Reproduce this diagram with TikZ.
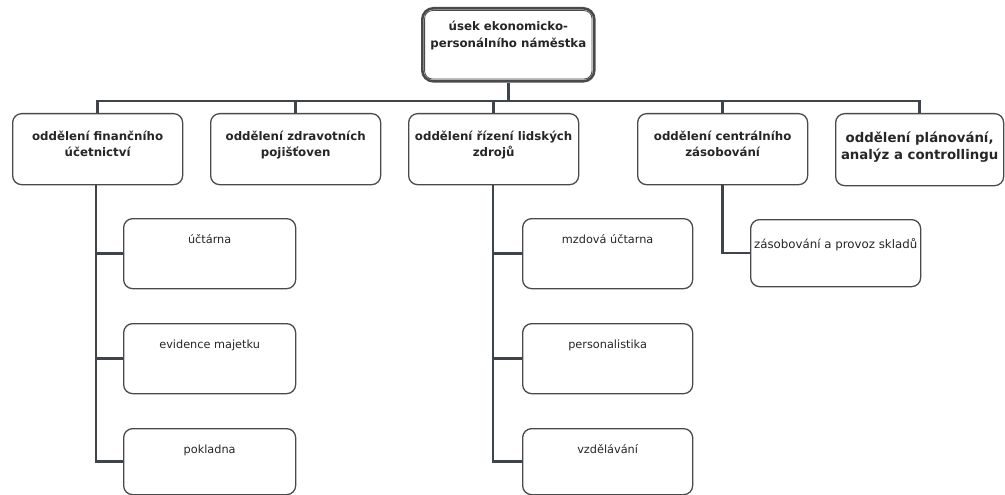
\documentclass[tikz,border=0pt]{standalone}
\usepackage{fontspec}
\setmainfont{DejaVu Sans}
\definecolor{linec}{HTML}{3E4449}
\definecolor{boxc}{HTML}{4A4A4A}
\definecolor{txtc}{HTML}{262626}
\tikzset{
  box/.style={draw=boxc, line width=1.3pt, rounded corners=9pt, inner sep=0pt, anchor=north west, text=txtc, fill=white},
  conn/.style={draw=linec, line width=2.6pt, line join=miter},
}
\newcommand{\lvltext}[4]{\parbox[t][#1pt][t]{#2pt}{\centering\rule{0pt}{#3pt}#4}}
\begin{document}
\begin{tikzpicture}[x=1pt,y=-1pt]
\useasboundingbox[fill=white] (0,0) rectangle (1005,495);

% top box
\node[box, line width=2.6pt, rounded corners=11pt] (top) at (421,7)
  {\lvltext{73}{172}{22}{\fontsize{11.8}{17}\selectfont\bfseries úsek ekonomicko-\\personálního náměstka}};
\draw[boxc, line width=0.8pt, rounded corners=8pt] ([shift={(3.6pt,-3.6pt)}]top.north west) rectangle ([shift={(-3.6pt,3.6pt)}]top.south east);

% level 1
\node[box] (b1) at (12,113) {\lvltext{71}{170}{27}{\fontsize{11.8}{16}\selectfont\bfseries oddělení finančního\\účetnictví}};
\node[box] (b2) at (210,113) {\lvltext{71}{170}{27}{\fontsize{11.8}{16}\selectfont\bfseries oddělení zdravotních\\pojišťoven}};
\node[box] (b3) at (408,113) {\lvltext{71}{170}{27}{\fontsize{11.8}{16}\selectfont\bfseries oddělení řízení lidských\\zdrojů}};
\node[box] (b4) at (637,113) {\lvltext{71}{170}{27}{\fontsize{11.8}{16}\selectfont\bfseries oddělení centrálního\\zásobování}};
\node[box] (b5) at (835,113) {\lvltext{72}{168}{29}{\fontsize{13.3}{17}\selectfont\bfseries oddělení plánování,\\analýz a controllingu}};

% level 2, column 1
\node[box] (a1) at (123,218) {\lvltext{70}{172}{25}{\fontsize{11.3}{14}\selectfont účtárna}};
\node[box] (a2) at (123,323) {\lvltext{70}{172}{25}{\fontsize{11.3}{14}\selectfont evidence majetku}};
\node[box] (a3) at (123,428) {\lvltext{66}{172}{25}{\fontsize{11.3}{14}\selectfont pokladna}};
% level 2, column 3
\node[box] (c1) at (522,218) {\lvltext{70}{170}{25}{\fontsize{11.3}{14}\selectfont mzdová účtarna}};
\node[box] (c2) at (522,323) {\lvltext{70}{170}{25}{\fontsize{11.3}{14}\selectfont personalistika}};
\node[box] (c3) at (522,428) {\lvltext{66}{170}{25}{\fontsize{11.3}{14}\selectfont vzdělávání}};
% level 2, column 4
\node[box] (d1) at (750,219) {\lvltext{67}{170}{29}{\fontsize{11.8}{14}\selectfont zásobování a provoz skladů}};

% connectors
\coordinate (bus) at (0,101);
\draw[conn] (top.south) -- (top.south |- bus);
\draw[conn] (b1.north) -- (b1.north |- bus) -- (b5.north |- bus) -- (b5.north);
\draw[conn] (b2.north |- bus) -- (b2.north);
\draw[conn] (b3.north |- bus) -- (b3.north);
\draw[conn] (b4.north |- bus) -- (b4.north);

\coordinate (s1) at (96,0);
\draw[conn] (b1.south -| s1) |- (a3.west);
\draw[conn] (a1.west -| s1) -- (a1.west);
\draw[conn] (a2.west -| s1) -- (a2.west);

\coordinate (s3) at (493,0);
\draw[conn] (b3.south -| s3) |- (c3.west);
\draw[conn] (c1.west -| s3) -- (c1.west);
\draw[conn] (c2.west -| s3) -- (c2.west);

\draw[conn] (b4.south) |- (d1.west);
\end{tikzpicture}
\end{document}
